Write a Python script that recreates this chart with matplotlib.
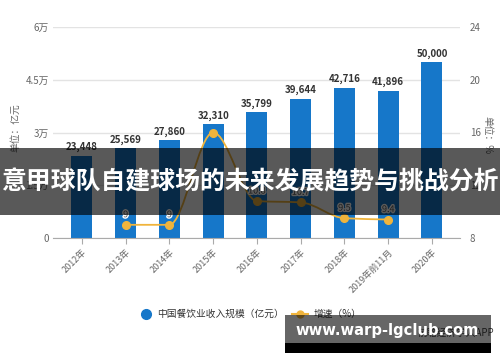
import matplotlib
matplotlib.use('Agg')
import matplotlib.pyplot as plt
from matplotlib.path import Path
from matplotlib.patches import PathPatch, Rectangle
from matplotlib.lines import Line2D
import matplotlib.patheffects as pe
import numpy as np

plt.rcParams['font.family'] = ['Noto Sans CJK SC', 'DejaVu Sans']

categories = ['2012年', '2013年', '2014年', '2015年', '2016年', '2017年',
              '2018年', '2019年前11月', '2020年']
revenue = [23448, 25569, 27860, 32310, 35799, 39644, 42716, 41896, 50000]
growth_categories = ['2013年', '2014年', '2015年', '2016年', '2017年',
                     '2018年', '2019年前11月']
growth = [9, 9, 16, 10.8, 10.7, 9.5, 9.4]
growth_labels = ['9', '9', '', '10.8', '10.7', '9.5', '9.4']
left_ticks = [0, 15000, 30000, 45000, 60000]
left_tick_labels = ['0', '1.5万', '3万', '4.5万', '6万']
right_ticks = [8, 12, 16, 20, 24]

title_text = '意甲球队自建球场的未来发展趋势与挑战分析'
site_text = 'www.warp-lgclub.com'

W, H = 500, 362
BLUE = '#1677c9'
GOLD = '#f0b43c'
GRAY = '#666666'


def fx(x):
    return x / W


def fy(y):
    return 1 - y / H


fig = plt.figure(figsize=(5, 3.62), dpi=100)
ax = fig.add_axes([fx(53), fy(238), fx(460) - fx(53), fy(27) - fy(238)])
ax2 = ax.twinx()

x = np.arange(len(categories))
ax.bar(x, revenue, width=0.48, color=BLUE, zorder=2)
for xi, v in zip(x, revenue):
    ax.annotate(f'{v:,}', (xi, v), xytext=(0, 2.5), textcoords='offset points',
                ha='center', va='bottom', fontsize=7, fontweight='bold',
                color='#333333', zorder=5)

ax.set_ylim(0, 60000)
ax.set_xlim(-0.66, 8.64)
ax.set_yticks(left_ticks)
ax.set_yticklabels(left_tick_labels)
ax.yaxis.grid(True, color='#e3e3e3', linewidth=1, zorder=0)
ax.set_axisbelow(True)
ax.tick_params(axis='y', length=0, pad=3, labelsize=7, labelcolor=GRAY)
ax.set_xticks(x)
ax.set_xticklabels(categories, rotation=45, ha='right', va='top',
                   rotation_mode='anchor')
ax.tick_params(axis='x', length=4, color='#aaaaaa', pad=3, labelsize=6.5,
               labelcolor=GRAY)
for s in ['top', 'left', 'right']:
    ax.spines[s].set_visible(False)
    ax2.spines[s].set_visible(False)
ax.spines['bottom'].set_color('#aaaaaa')
ax2.spines['bottom'].set_visible(False)

# growth line: monotone cubic (Fritsch-Carlson) drawn as Bezier path
gx = np.array([categories.index(c) for c in growth_categories], dtype=float)
gy = np.array(growth, dtype=float)
n = len(gx)
d = np.diff(gy) / np.diff(gx)
m = np.zeros(n)
m[0], m[-1] = d[0], d[-1]
for i in range(1, n - 1):
    if d[i - 1] * d[i] <= 0:
        m[i] = 0.0
    else:
        m[i] = 2.0 / (1.0 / d[i - 1] + 1.0 / d[i])
verts = [(gx[0], gy[0])]
codes = [Path.MOVETO]
for i in range(n - 1):
    h = gx[i + 1] - gx[i]
    verts += [(gx[i] + h / 3, gy[i] + m[i] * h / 3),
              (gx[i + 1] - h / 3, gy[i + 1] - m[i + 1] * h / 3),
              (gx[i + 1], gy[i + 1])]
    codes += [Path.CURVE4] * 3
ax2.add_patch(PathPatch(Path(verts, codes), facecolor='none', edgecolor=GOLD,
                        linewidth=1.3, zorder=3))
ax2.plot(gx, gy, linestyle='none', marker='o', markersize=5.5,
         color=GOLD, zorder=4)
for xi, v, lab in zip(gx, gy, growth_labels):
    if lab:
        ax2.annotate(lab, (xi, v), xytext=(0, 4), textcoords='offset points',
                     ha='center', va='bottom', fontsize=6.5, color='#555555',
                     path_effects=[pe.withStroke(linewidth=2, foreground='white')],
                     zorder=5)
ax2.set_ylim(8, 24)
ax2.set_yticks(right_ticks)
ax2.tick_params(axis='y', length=0, pad=7, labelsize=7, labelcolor=GRAY)

# axis unit labels
fig.text(fx(15), fy(128), '单位：亿元', rotation=90, ha='center', va='center',
         fontsize=7, color=GRAY)
fig.text(fx(487), fy(135), '单位：%', rotation=-90, ha='center', va='center',
         fontsize=7, color=GRAY)

# legend
fig.add_artist(Line2D([fx(146)], [fy(314)], marker='o', markersize=7,
                      color=BLUE, linestyle='none', transform=fig.transFigure))
fig.text(fx(157), fy(314), '中国餐饮业收入规模（亿元）', ha='left', va='center',
         fontsize=7, color='#333333')
fig.add_artist(Line2D([fx(292), fx(308)], [fy(314), fy(314)], color=GOLD,
                      linewidth=1.5, transform=fig.transFigure))
fig.add_artist(Line2D([fx(300)], [fy(314)], marker='o', markersize=5,
                      color=GOLD, linestyle='none', transform=fig.transFigure))
fig.text(fx(314), fy(314), '增速（%）', ha='left', va='center',
         fontsize=7, color='#333333')
fig.text(fx(418), fy(333), '前瞻经济学人APP', ha='left', va='center',
         fontsize=7, color='#444444')

# overlay banner
fig.add_artist(Rectangle((0, fy(215)), 1, fy(148) - fy(215),
                         transform=fig.transFigure, facecolor='black',
                         alpha=0.65, edgecolor='none', zorder=10))
fig.text(0.5, fy(182), title_text, ha='center', va='center', fontsize=17.9,
         fontweight='bold', color='white', zorder=11)

# site watermark box
fig.add_artist(Rectangle((fx(285), fy(343)), fx(491) - fx(285), fy(315) - fy(343),
                         transform=fig.transFigure, facecolor='black',
                         alpha=0.6, edgecolor='none', zorder=10))
fig.add_artist(Rectangle((fx(285), fy(353)), fx(491) - fx(285), fy(343) - fy(353),
                         transform=fig.transFigure, facecolor='black',
                         edgecolor='none', zorder=10))
fig.text(fx(387), fy(331), site_text, ha='center', va='center', fontsize=10.6,
         fontweight='bold', color='white', family=['DejaVu Sans'], zorder=11)

fig.savefig('out.png', dpi=100)
